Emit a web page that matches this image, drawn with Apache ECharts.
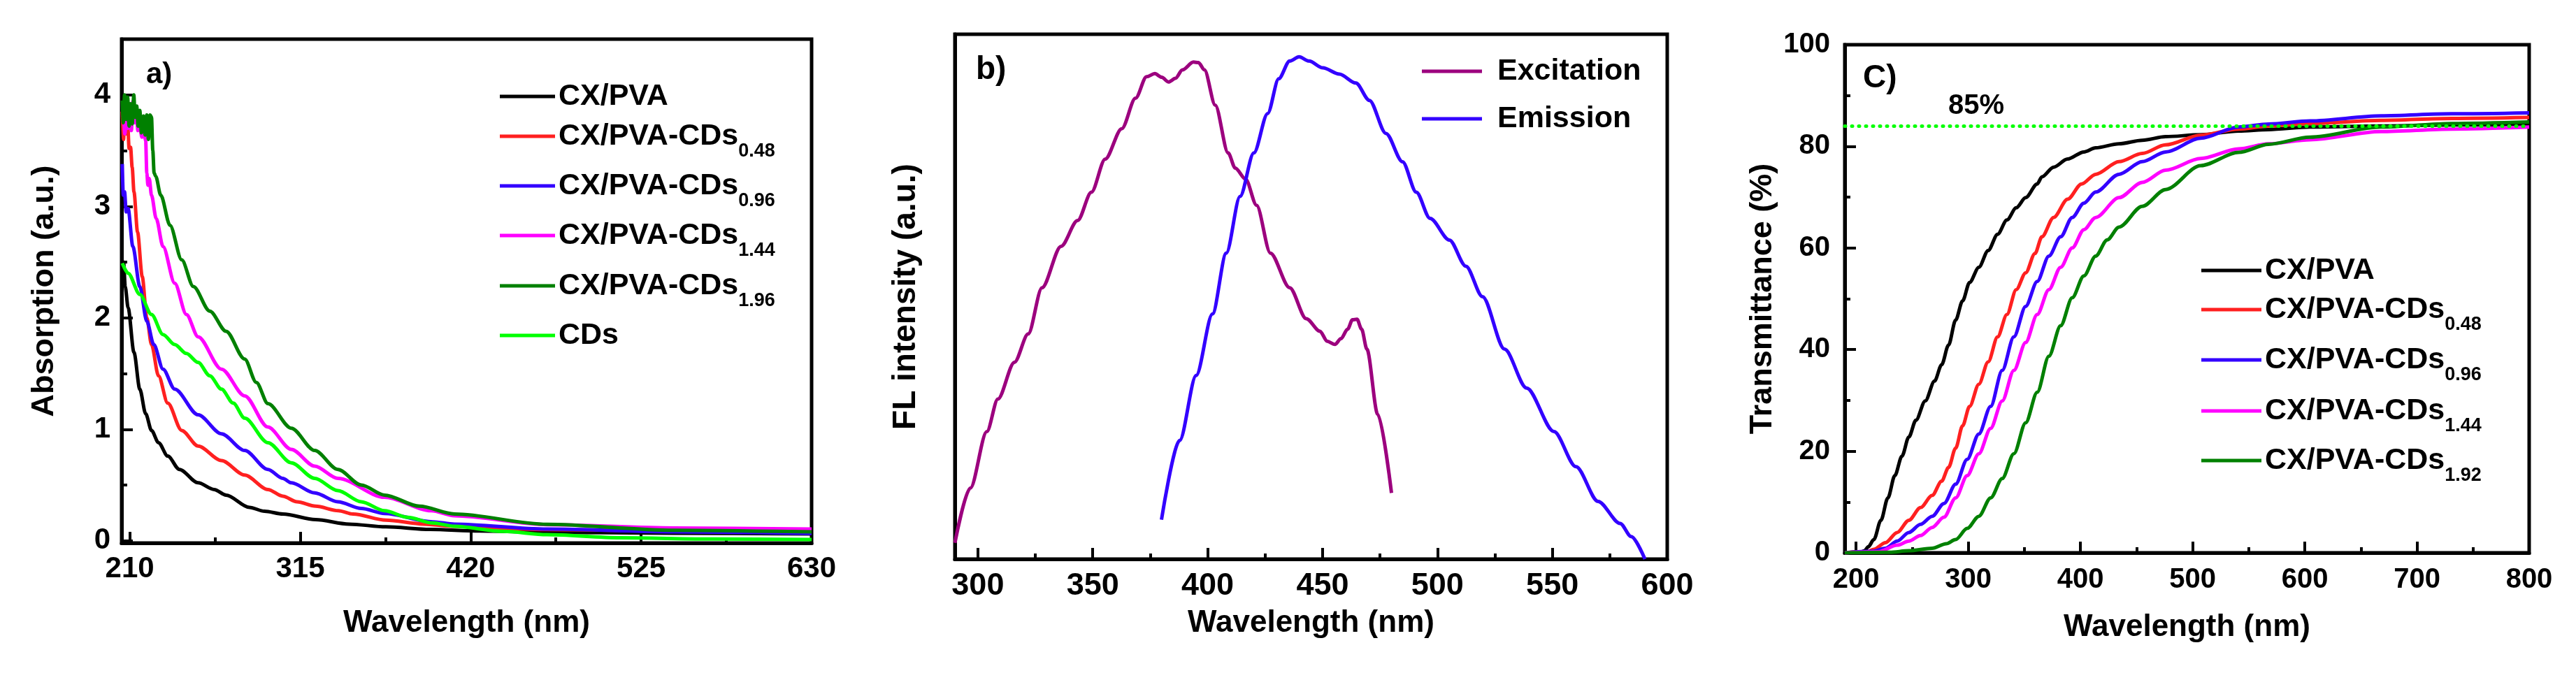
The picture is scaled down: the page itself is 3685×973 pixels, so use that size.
<!DOCTYPE html>
<html>
<head>
<meta charset="utf-8">
<title>CX/PVA-CDs films: absorption, FL and transmittance</title>
<script src="https://cdn.jsdelivr.net/npm/echarts@6/dist/echarts.min.js"></script>
<style>
  html, body { margin: 0; padding: 0; background: #fff; }
  #chart { width: 3685px; height: 973px; }
</style>
</head>
<body>
<div id="chart"></div>
<script>
// ---------- data ----------

// a) UV-vis absorption, [wavelength nm, absorbance]
const absBase = ['CX/PVA', 'CX/PVA-CDs', 'CX/PVA-CDs', 'CX/PVA-CDs', 'CX/PVA-CDs', 'CDs']
const absSubs = ['', '0.48', '0.96', '1.44', '1.96', '']
const absCxPva = [[205.4,2.40],[206.2,2.50],[207.2,2.28],[209,2.09],[212.6,1.69],[216.2,1.36],[219.8,1.14],[223.4,0.99],[227.7,0.88],[233.4,0.76],[240.6,0.64],[252.1,0.52],[262,0.46],[269.3,0.41],[283.7,0.30],[293,0.265],[304.3,0.24],[324.5,0.19],[345,0.15],[367.8,0.125],[395,0.102],[425.5,0.088],[467,0.076],[545,0.068],[630,0.062]]
const absCd048 = [[205.4,3.85],[206.2,3.6],[207,3.9],[207.8,3.65],[208.7,3.75],[209.6,3.52],[210.5,3.53],[211.5,3.35],[212.6,3.13],[214.8,2.77],[217.7,2.37],[220.5,2.0],[223.4,1.76],[227.7,1.48],[233.4,1.235],[242,0.99],[252.1,0.85],[266.5,0.72],[280.8,0.59],[295.1,0.46],[304.3,0.40],[313,0.35],[324.5,0.31],[338.5,0.27],[347.5,0.24],[367.8,0.185],[390.9,0.15],[410,0.13],[467,0.10],[545,0.088],[630,0.082]]
const absCd096 = [[205.4,3.38],[206,3.1],[206.8,3.13],[207.8,2.95],[209,2.98],[211.9,2.64],[216.2,2.28],[220.5,1.97],[224.8,1.76],[230.5,1.54],[237.7,1.36],[252.1,1.13],[266.5,0.96],[280.8,0.81],[295.1,0.64],[304.3,0.56],[309.5,0.52],[323.9,0.43],[338.2,0.35],[352.6,0.29],[366.9,0.245],[396.6,0.17],[410,0.15],[467,0.105],[545,0.08],[630,0.066]]
const absCd144 = [[205.4,3.8],[206.1,3.81],[207,3.65],[208,3.9],[209,3.7],[210,3.92],[211,3.68],[211.9,3.94],[213,3.75],[214,3.85],[215,3.68],[216.2,3.71],[217.5,3.62],[218.5,3.7],[219.8,3.59],[220.5,3.3],[221.2,3.19],[222,3.25],[223.4,3.10],[226.3,2.89],[230.5,2.64],[237.7,2.31],[244.9,2.03],[252.1,1.83],[266.5,1.54],[280.8,1.30],[295.1,1.02],[309.5,0.82],[323.9,0.67],[338.2,0.56],[366.9,0.39],[395.7,0.27],[410,0.225],[467,0.145],[545,0.115],[630,0.105]]
const absCd196 = [[205.4,3.95],[206,3.75],[206.8,4.0],[207.8,3.78],[208.7,3.98],[209.6,3.72],[210.5,3.92],[211.5,3.74],[212.5,4.0],[213.3,3.8],[214.3,3.9],[215.2,3.72],[216.2,3.86],[217.2,3.66],[218.4,3.81],[219.5,3.64],[220.5,3.82],[221.5,3.6],[222.5,3.82],[223.4,3.80],[224.2,3.5],[225,3.3],[226,3.27],[229.1,3.10],[234.8,2.83],[242,2.52],[249.2,2.28],[259.3,2.06],[269.3,1.88],[280.8,1.63],[288,1.42],[295.1,1.23],[309.5,1.01],[323.9,0.81],[338.2,0.64],[352.6,0.50],[366.9,0.41],[388.5,0.31],[410,0.24],[467,0.148],[545,0.095],[630,0.08]]
const absCds = [[205.4,2.49],[209,2.40],[216.2,2.21],[223.4,2.03],[230.5,1.85],[237.7,1.76],[244.9,1.68],[252.1,1.60],[259.3,1.48],[266.5,1.36],[273.7,1.235],[280.8,1.10],[295.1,0.88],[309.5,0.70],[323.9,0.56],[338.2,0.45],[352.6,0.35],[366.9,0.27],[381.3,0.21],[396.6,0.16],[410,0.13],[440,0.085],[467,0.055],[512,0.027],[570,0.016],[630,0.011]]
const absXTicks = [210, 315, 420, 525, 630]
const absXMinor = [262.5, 367.5, 472.5, 577.5]
const absYTicks = [0, 1, 2, 3, 4]
const absYMinor = [0.5, 1.5, 2.5, 3.5]

// b) FL excitation / emission, [wavelength nm, intensity a.u.]
const flNames = ['Excitation', 'Emission']
const flExcitation = [[290,3.1],[296.7,13.5],[303.9,24.3],[308.7,30.5],[315.9,37.5],[321.9,42.9],[327.9,51.7],[336.2,59.6],[343.4,64.5],[349.4,69.9],[355.4,76.2],[362.6,82.0],[368.6,87.8],[373.4,91.9],[377,92.5],[380,91.8],[383,90.9],[386,91.6],[389,93.2],[393.8,94.7],[396,94.6],[398.6,93.2],[403.3,86.5],[408.9,77.4],[412,74.5],[416.5,72.4],[421.3,67.4],[427.3,58.3],[435.7,51.7],[442.9,45.8],[448.9,43.4],[452,41.5],[455.4,40.9],[458,42.0],[460.9,43.8],[463,45.6],[465,45.7],[467,43.8],[469.3,40.0],[474,27.6],[480,12.6]]
const flEmission = [[379.9,7.5],[387.8,22.6],[395,35],[402.1,46.7],[408.1,58.3],[414.1,69.1],[420.1,77.4],[426.1,84.9],[430.9,91.5],[435.7,94.9],[439.8,95.7],[444.1,94.9],[450.1,93.6],[457.3,92.4],[464.5,90.7],[470.4,87.4],[477.6,81.1],[484.8,75.7],[490.8,69.9],[496.8,64.9],[505.2,60.8],[512.4,55.8],[519.6,50],[529.2,40],[538.8,32.6],[550.7,24.3],[560.3,17.6],[569.9,11],[579.5,6.8],[584.3,4.3],[590.3,0]]
const flXTicks = [300, 350, 400, 450, 500, 550, 600]
const flXMinor = [325, 375, 425, 475, 525, 575]

// c) transmittance, [wavelength nm, T %]
const trBase = ['CX/PVA', 'CX/PVA-CDs', 'CX/PVA-CDs', 'CX/PVA-CDs', 'CX/PVA-CDs']
const trSubs = ['', '0.48', '0.96', '1.44', '1.92']
const trCxPva = [[190,0],[205,0.2],[207.6,0.4],[211,1.2],[215.9,2.6],[222.2,6.4],[228.4,10.8],[234.6,15.2],[240.9,19.0],[247.1,22.8],[253.4,26.1],[261.7,29.9],[270,33.8],[276.3,37.0],[282.5,40.9],[288.8,45.8],[295,49.6],[301.2,53.2],[309.5,56.2],[317.8,59.5],[326.2,62.7],[334.5,65.5],[342.8,67.9],[351.2,69.9],[361.5,72.6],[365.7,74.0],[376.1,75.9],[388.6,77.5],[403.1,78.9],[413.6,79.7],[434.4,80.5],[455.1,81.2],[475.9,81.9],[507.2,82.3],[541,83.0],[567.7,83.3],[604.6,83.8],[668,84.0],[731,84.2],[800,84.4]]
const trCd048 = [[190,0],[210,0.2],[215.9,0.7],[226.3,2.0],[236.7,4.0],[247.1,6.4],[257.5,8.9],[267.9,11.3],[276.3,14.1],[282.5,16.8],[288.8,20.6],[295,25.0],[301.2,28.8],[309.5,33.2],[317.8,37.6],[326.2,42.5],[334.5,46.9],[342.8,51.8],[351.2,55.1],[359.5,58.9],[365.7,62.2],[376.1,66.0],[388.6,69.6],[401.1,72.6],[413.6,74.5],[434.4,77.0],[455.1,78.6],[475.9,80.3],[507.2,82.2],[541,83.4],[567.7,84.0],[604.6,84.5],[668,85.1],[731,85.5],[800,85.7]]
const trCd096 = [[190,0],[215,0.3],[226.3,0.9],[236.7,2.3],[247.1,4.0],[257.5,5.6],[267.9,7.2],[278.4,9.7],[288.8,13.5],[299.1,18.4],[309.5,23.4],[320,28.8],[330.3,35.9],[340.7,42.5],[351.2,48.5],[361.5,53.4],[371.9,58.4],[382.4,62.2],[392.7,66.0],[403.1,68.8],[413.6,71.0],[434.4,74.5],[455.1,77.0],[475.9,78.9],[507.2,81.6],[541,83.8],[567.7,84.4],[604.6,85.0],[668,86.0],[731,86.4],[800,86.6]]
const trCd144 = [[190,0],[220,0.2],[236.7,1.5],[247.1,2.3],[257.5,3.4],[267.9,5.0],[278.4,7.0],[288.8,10.8],[299.1,15.2],[309.5,19.5],[320,24.5],[330.3,29.9],[340.7,35.9],[351.2,41.4],[361.5,46.9],[371.9,51.8],[382.4,56.2],[392.7,60.0],[403.1,63.6],[413.6,66.0],[434.4,69.9],[455.1,72.9],[475.9,75.3],[507.2,77.6],[541,79.5],[567.7,80.5],[604.6,81.3],[668,82.9],[731,83.4],[800,83.8]]
const trCd192 = [[190,0],[230,0.1],[247.1,0.4],[267.9,0.9],[280.4,1.8],[288.8,2.6],[299.1,4.8],[309.5,7.2],[320,10.8],[330.3,14.6],[340.7,19.5],[351.2,25.6],[361.5,31.6],[371.9,38.7],[382.4,44.7],[392.7,50.2],[403.1,54.5],[413.6,58.4],[423.9,61.6],[434.4,64.1],[455.1,68.2],[475.9,71.5],[507.2,76.2],[541,78.8],[567.7,80.4],[604.6,81.8],[668,83.8],[731,84.5],[800,84.8]]
const trGuide = 84
const trGuideLabel = '85%'
const trXTicks = [200, 300, 400, 500, 600, 700, 800]
const trXMinor = [250, 350, 450, 550, 650, 750]
const trYTicks = [0, 20, 40, 60, 80, 100]
const trYMinor = [10, 30, 50, 70, 90]

// ---------- styling / layout ----------
const FONT = '"Liberation Sans", Arial, sans-serif'
const absColors = ['#000000', '#ff2020', '#3300ff', '#ff00ff', '#008000', '#00ff00']
const flColors = ['#9c007e', '#3300ff']
const trColors = ['#000000', '#ff2020', '#3300ff', '#ff00ff', '#008000']

function bold(size) {
  return {fontSize: size, fontWeight: 'bold', fontFamily: FONT, color: '#000'}
}

function majorAxis(grid, pos, min, max, ticks, labelSize, margin, name, nameSize, nameGap) {
  return {
    type: 'value', gridIndex: grid, position: pos, min: min, max: max,
    name: name, nameLocation: 'middle', nameGap: nameGap, nameTextStyle: bold(nameSize),
    axisLine: {show: true, onZero: false, lineStyle: {color: '#000', width: 5}},
    axisTick: ticks ? {show: true, inside: true, length: 16, customValues: ticks, lineStyle: {color: '#000', width: 4}} : {show: false},
    axisLabel: ticks ? Object.assign({show: true, customValues: ticks, margin: margin}, bold(labelSize)) : {show: false},
    splitLine: {show: false},
    minorTick: {show: false},
    axisPointer: {show: false}
  }
}

function minorAxis(grid, pos, min, max, ticks) {
  return {
    type: 'value', gridIndex: grid, position: pos, min: min, max: max,
    axisLine: {show: false, onZero: false},
    axisTick: {show: true, inside: true, length: 8, customValues: ticks, lineStyle: {color: '#000', width: 4}},
    axisLabel: {show: false},
    splitLine: {show: false}
  }
}

function line(name, data, color, xi, yi) {
  return {
    type: 'line', name: name, data: data, xAxisIndex: xi, yAxisIndex: yi,
    color: color, symbol: 'none', showSymbol: false,
    smooth: 0.3, smoothMonotone: 'x',
    lineStyle: {color: color, width: 5},
    itemStyle: {color: color, borderWidth: 0},
    emphasis: {disabled: true},
    animation: false
  }
}

// one legend per row so each row sits where the figure puts it.
// every row is one 70 px line: main text in the middle, subscript at the bottom
const ROW_H = 70
function legendRows(base, subs, left, centers, iconW, textPad) {
  return base.map(function (b, i) {
    const sub = subs[i]
    return {
      data: [b + sub], left: left, top: centers[i] - ROW_H / 2,
      orient: 'vertical', padding: 0, selectedMode: false,
      icon: 'rect', itemWidth: iconW, itemHeight: 5,
      itemStyle: {borderWidth: 0},
      formatter: function () {
        return sub ? '{m|' + b + '}{s|' + sub + '}' : '{m|' + b + '}'
      },
      textStyle: {
        color: '#000', fontFamily: FONT, fontWeight: 'bold', fontSize: 43, lineHeight: ROW_H,
        rich: {
          m: {color: '#000', fontFamily: FONT, fontWeight: 'bold', fontSize: 43, lineHeight: ROW_H, verticalAlign: 'middle', padding: [0, 0, 0, textPad]},
          s: {color: '#000', fontFamily: FONT, fontWeight: 'bold', fontSize: 27, lineHeight: ROW_H, verticalAlign: 'bottom'}
        }
      }
    }
  })
}

const absData = [absCxPva, absCd048, absCd096, absCd144, absCd196, absCds]
const trData = [trCxPva, trCd048, trCd096, trCd144, trCd192]
const flData = [flExcitation, flEmission]

const series = []
absData.forEach(function (d, i) { series.push(line(absBase[i] + absSubs[i], d, absColors[i], 0, 0)) })
flData.forEach(function (d, i) { series.push(line(flNames[i], d, flColors[i], 2, 2)) })
trData.forEach(function (d, i) { series.push(line(trBase[i] + trSubs[i], d, trColors[i], 4, 3)) })
series[series.length - 1].markLine = {
  silent: true, symbol: ['none', 'none'], label: {show: false}, z: 10,
  lineStyle: {color: '#00ff00', width: 5, type: [1, 9], cap: 'round'},
  emphasis: {disabled: true},
  data: [{yAxis: trGuide}],
  animation: false
}

const gridStyle = {show: true, borderColor: '#000', borderWidth: 5, backgroundColor: 'transparent', containLabel: false, outerBoundsMode: 'none'}

const chart = echarts.init(document.getElementById('chart'), null, {renderer: 'canvas'})
chart.setOption({
  backgroundColor: '#fff',
  animation: false,
  textStyle: {fontFamily: FONT},
  grid: [
    Object.assign({left: 174, top: 56, width: 987, height: 721}, gridStyle),
    Object.assign({left: 1366, top: 49, width: 1019, height: 751}, gridStyle),
    Object.assign({left: 2639, top: 64, width: 979, height: 727}, gridStyle)
  ],
  xAxis: [
    majorAxis(0, 'bottom', 205, 630, absXTicks, 42, 16, 'Wavelength (nm)', 44, 93),
    minorAxis(0, 'bottom', 205, 630, absXMinor),
    majorAxis(1, 'bottom', 290, 600, flXTicks, 45, 16, 'Wavelength (nm)', 44, 70),
    minorAxis(1, 'bottom', 290, 600, flXMinor),
    majorAxis(2, 'bottom', 190, 800, trXTicks, 40, 19, 'Wavelength (nm)', 44, 85),
    minorAxis(2, 'bottom', 190, 800, trXMinor)
  ],
  yAxis: [
    majorAxis(0, 'left', -0.02, 4.5, absYTicks, 42, 16, 'Absorption (a.u.)', 45, 88),
    minorAxis(0, 'left', -0.02, 4.5, absYMinor),
    majorAxis(1, 'left', 0, 100, null, 0, 0, 'FL intensity (a.u.)', 46, 47),
    majorAxis(2, 'left', 0, 100, trYTicks, 40, 21, 'Transmittance (%)', 45, 95),
    minorAxis(2, 'left', 0, 100, trYMinor)
  ],
  legend: [].concat(
    legendRows(absBase, absSubs, 715, [138, 195, 266, 337, 409, 480], 79, 0),
    legendRows(flNames, ['', ''], 2034, [102, 170], 86, 17),
    legendRows(trBase, trSubs, 3149, [387, 443, 515, 588, 659], 86, 0)
  ),
  graphic: [
    {type: 'text', x: 209, y: 107, style: {text: 'a)', font: 'bold 42px ' + FONT, fill: '#000', align: 'left', verticalAlign: 'middle'}},
    {type: 'text', x: 1396, y: 100, style: {text: 'b)', font: 'bold 46px ' + FONT, fill: '#000', align: 'left', verticalAlign: 'middle'}},
    {type: 'text', x: 2665, y: 112, style: {text: 'C)', font: 'bold 46px ' + FONT, fill: '#000', align: 'left', verticalAlign: 'middle'}},
    {type: 'text', x: 2787, y: 152, style: {text: trGuideLabel, font: 'bold 40px ' + FONT, fill: '#000', align: 'left', verticalAlign: 'middle'}}
  ],
  series: series
})
</script>
</body>
</html>
